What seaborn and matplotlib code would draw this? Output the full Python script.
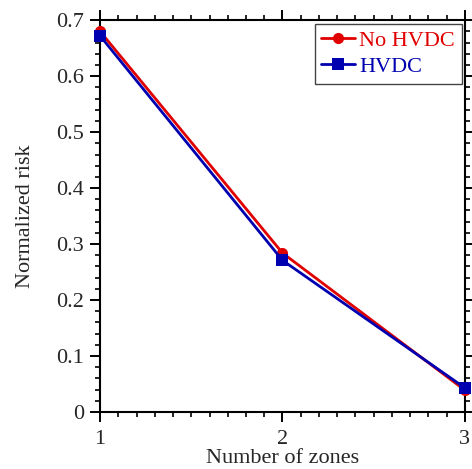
import matplotlib
matplotlib.use("Agg")
import matplotlib.pyplot as plt
from matplotlib.ticker import MultipleLocator, FuncFormatter
import seaborn as sns
import pandas as pd

zones = [1, 2, 3]
risk_no_hvdc = [0.680, 0.284, 0.039]
risk_hvdc = [0.672, 0.271, 0.043]
series_names = ["No HVDC", "HVDC"]
colors = {"No HVDC": "#e00000", "HVDC": "#0000b0"}
markers = {"No HVDC": "o", "HVDC": "s"}

df = pd.DataFrame({
    "zones": zones * 2,
    "risk": risk_no_hvdc + risk_hvdc,
    "case": [series_names[0]] * 3 + [series_names[1]] * 3,
})

sns.set_style("ticks")
plt.rcParams["font.family"] = "serif"
plt.rcParams["font.serif"] = ["Liberation Serif", "Times New Roman", "DejaVu Serif"]

fig = plt.figure(figsize=(4.72, 4.69), dpi=100)
ax = fig.add_axes([0.212, 0.1215, 0.773, 0.8355])

sns.lineplot(data=df, x="zones", y="risk", hue="case", style="case",
             hue_order=series_names, style_order=series_names,
             palette=colors, markers=markers, dashes=False,
             markersize=8, markeredgewidth=0, linewidth=2, ax=ax,
             clip_on=False, zorder=5)

ax.set_xlim(1, 3)
ax.set_ylim(0, 0.7)
ax.xaxis.set_major_locator(MultipleLocator(1))
ax.xaxis.set_minor_locator(MultipleLocator(0.1))
ax.yaxis.set_major_locator(MultipleLocator(0.1))
ax.yaxis.set_minor_locator(MultipleLocator(0.02))
ax.yaxis.set_major_formatter(FuncFormatter(
    lambda v, p: "0" if abs(v) < 1e-9 else f"{v:.1f}"))

for s in ax.spines.values():
    s.set_visible(True)
    s.set_linewidth(1.5)
    s.set_color("black")

ax.tick_params(which="both", direction="out", top=True, right=True,
               labeltop=False, labelright=False, color="black")
ax.tick_params(which="major", length=7.5, width=1.4, labelsize=16, pad=4)
ax.tick_params(axis="x", which="major", pad=5.5)
ax.tick_params(which="minor", length=3.5, width=1.2)

ax.set_xlabel("Number of zones", fontsize=16, labelpad=0)
ax.set_ylabel("Normalized risk", fontsize=16, labelpad=15)

leg = ax.legend(loc="upper right", fontsize=16, frameon=True, fancybox=False,
                borderaxespad=0.15, handlelength=1.5, handletextpad=0.2,
                borderpad=0.3, labelspacing=0.25)
leg.get_frame().set_edgecolor("#444444")
leg.get_frame().set_linewidth(1.0)
leg.get_frame().set_alpha(1)
for txt, name in zip(leg.get_texts(), series_names):
    txt.set_color(colors[name])

fig.savefig("out.png", dpi=100)
